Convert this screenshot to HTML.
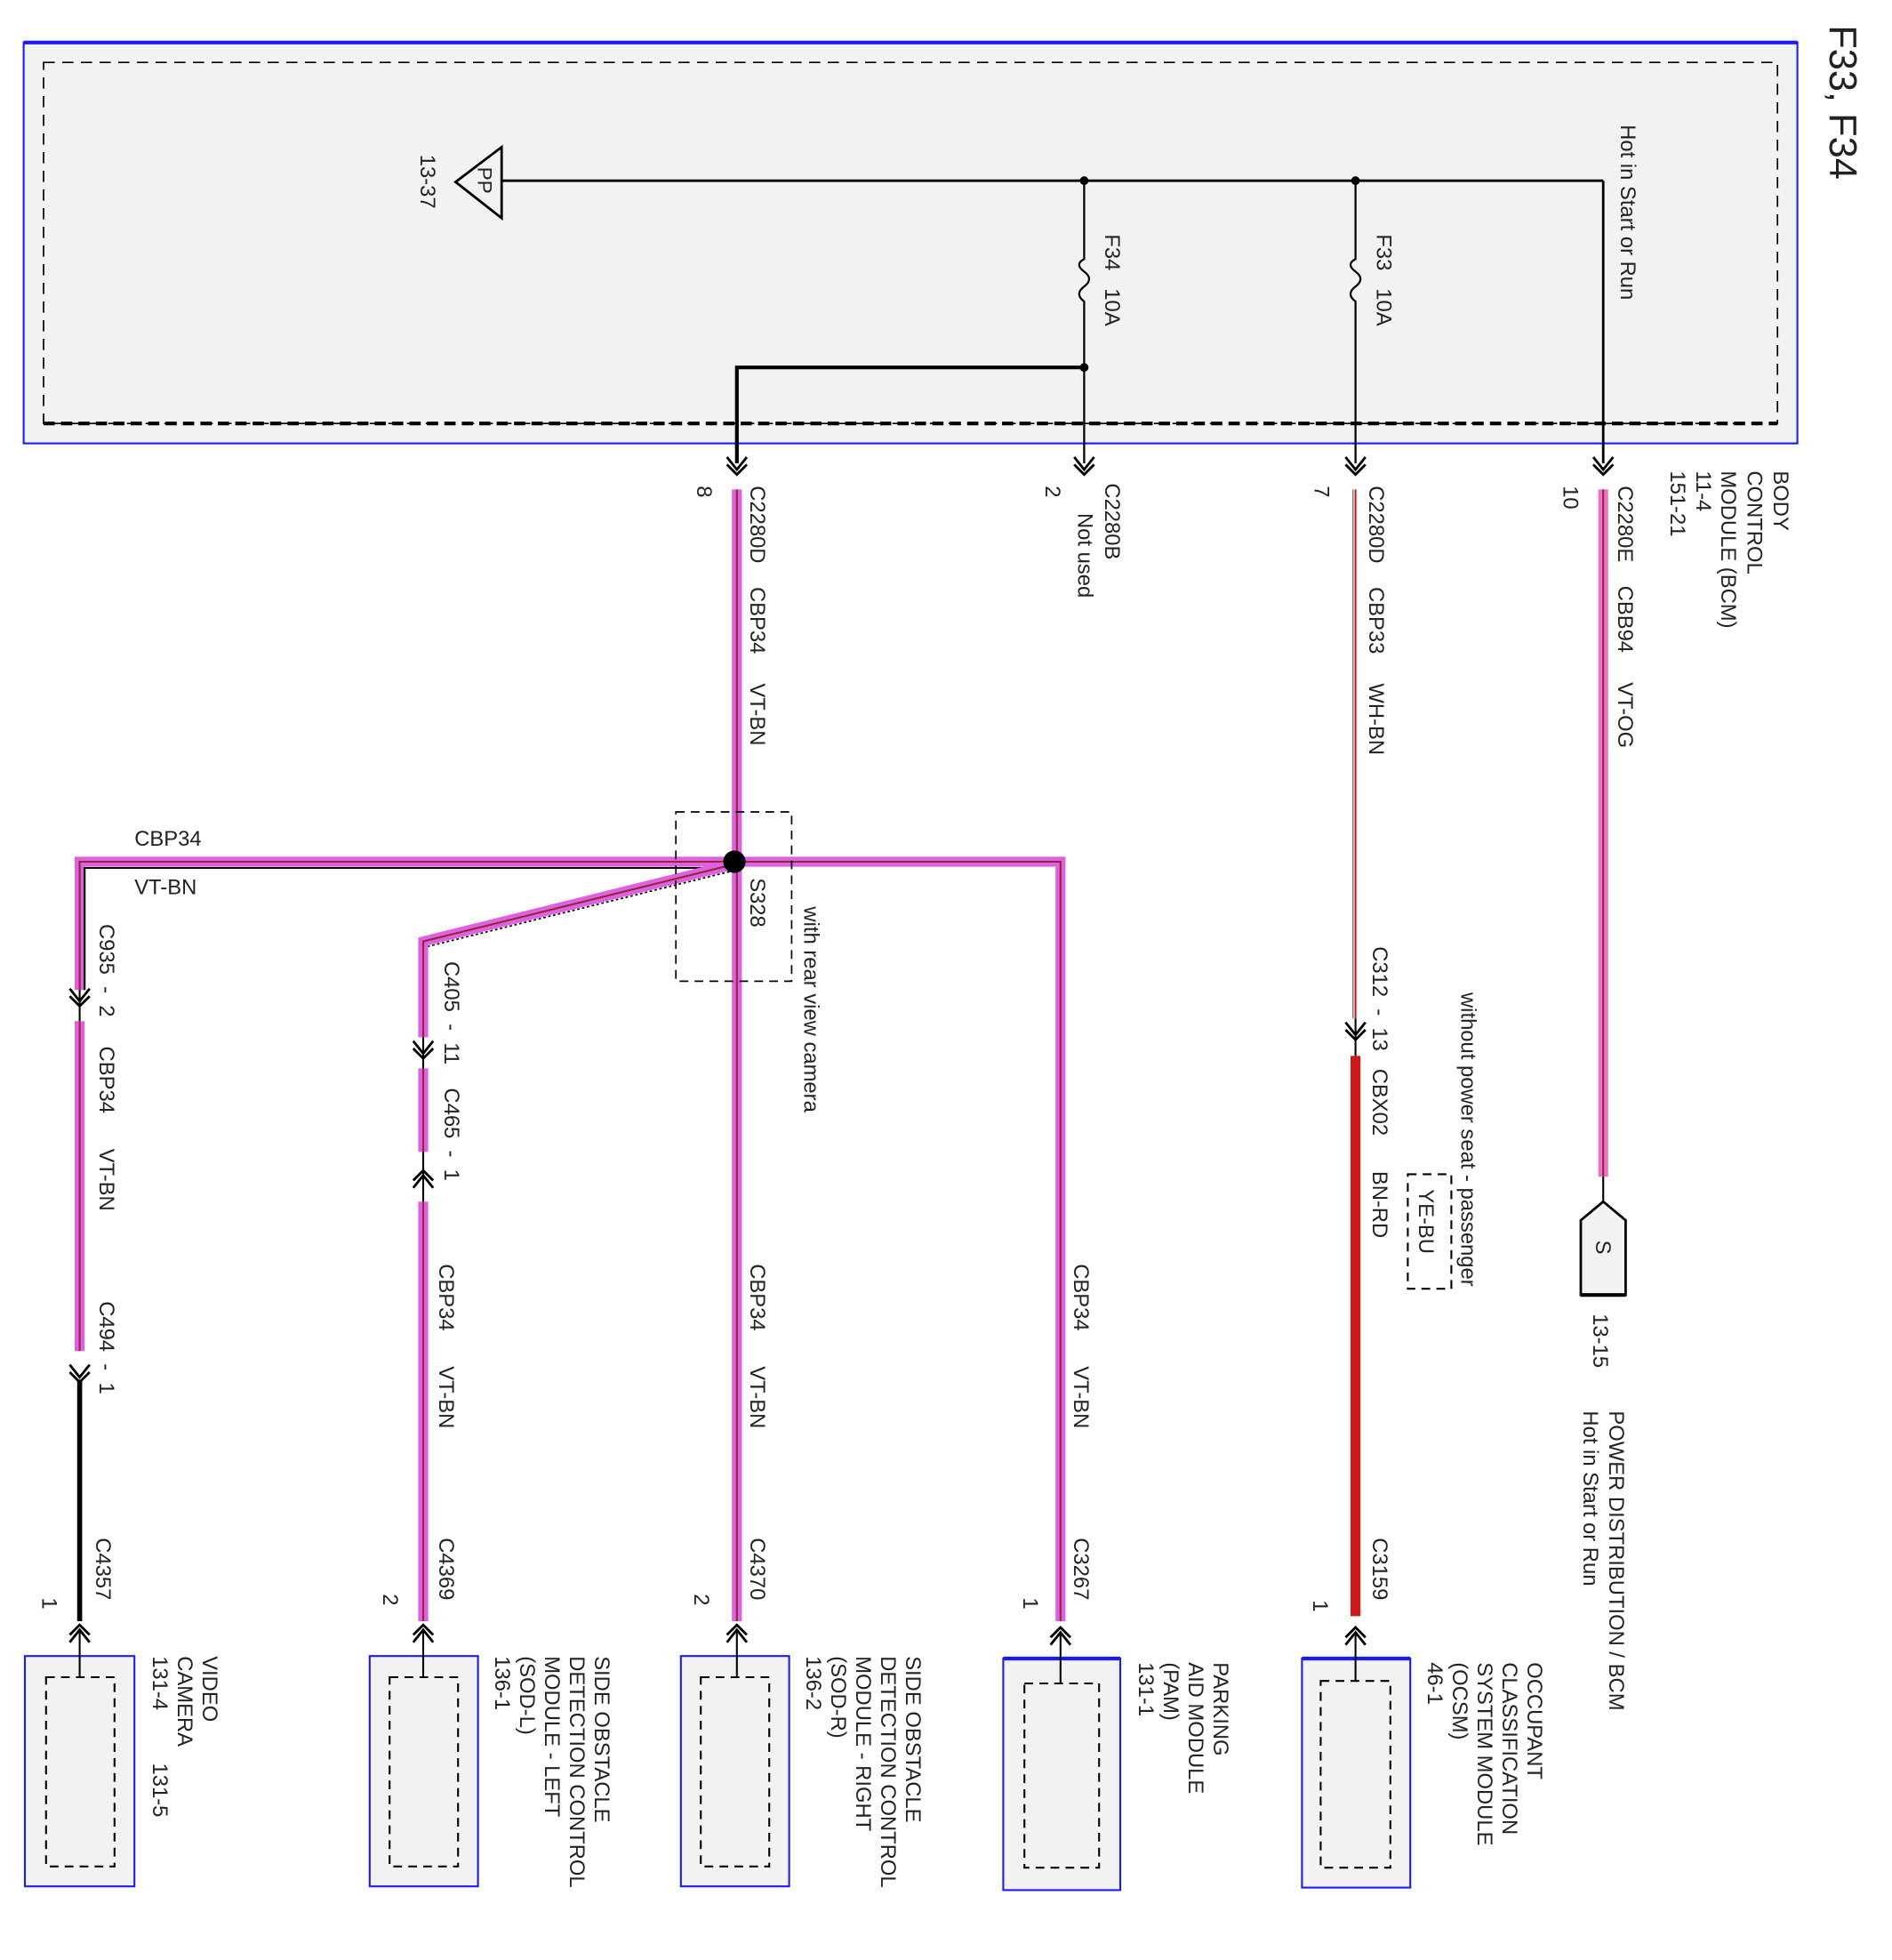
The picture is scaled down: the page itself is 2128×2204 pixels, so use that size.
<!DOCTYPE html>
<html><head><meta charset="utf-8"><style>
html,body{margin:0;padding:0;background:#fff;}
svg{display:block;}
text{font-family:"Liberation Sans",sans-serif;font-size:17px;fill:#222;white-space:pre;}
</style></head><body>
<svg width="2128" height="2204" viewBox="0 0 1520 1574" xmlns="http://www.w3.org/2000/svg" xml:space="preserve">
<defs>
<g id="dn"><path d="M-8,-9 L0,1 L8,-9 M-8,-3 L0,5 L8,-3" fill="none" stroke="#000" stroke-width="2"/></g>
<g id="up"><path d="M-8,9 L0,-1 L8,9 M-8,3 L0,-5 L8,3" fill="none" stroke="#000" stroke-width="2"/></g>
</defs>
<rect x="19" y="34" width="1425" height="322" fill="#f2f2f2" stroke="#1a1aff" stroke-width="1.5"/>
<line x1="19" y1="34" x2="1444" y2="34" stroke="#1a1aff" stroke-width="3"/>
<rect x="35" y="50" width="1393" height="290" fill="none" stroke="#000" stroke-width="1.2" stroke-dasharray="9,6"/>
<line x1="35" y1="340" x2="1428" y2="340" stroke="#000" stroke-width="3" stroke-dasharray="9,5"/>
<text transform="rotate(90 1470 20)" x="1470" y="20" style="font-size:31px">F33, F34</text>
<line x1="403" y1="145" x2="1288" y2="145" stroke="#000" stroke-width="2"/>
<line x1="1288" y1="145" x2="1288" y2="372" stroke="#000" stroke-width="2"/>
<polygon points="366,146 403,118 403,175" fill="#f2f2f2" stroke="#000" stroke-width="2"/>
<text transform="rotate(90 384 134)" x="384" y="134" style="font-size:16px">PP</text>
<text transform="rotate(90 338 124)" x="338" y="124">13-37</text>
<circle cx="871" cy="145" r="3.5" fill="#000"/><circle cx="1089" cy="145" r="3.5" fill="#000"/>
<path d="M871,145 V208 q-8,4 0,10 q8,6 0,12 q-8,6 0,12 V372" fill="none" stroke="#000" stroke-width="1.6"/>
<path d="M1089,145 V208 q-8,4 0,10 q8,6 0,12 q-8,6 0,12 V372" fill="none" stroke="#000" stroke-width="1.6"/>
<text transform="rotate(90 888 188)" x="888" y="188">F34   10A</text>
<text transform="rotate(90 1106 188)" x="1106" y="188">F33   10A</text>
<text transform="rotate(90 1302 100)" x="1302" y="100">Hot in Start or Run</text>
<path d="M871,295 H592 V372" fill="none" stroke="#000" stroke-width="3"/>
<circle cx="871" cy="295" r="3.5" fill="#000"/>
<use href="#dn" x="592" y="376"/><use href="#dn" x="871" y="376"/><use href="#dn" x="1089" y="376"/><use href="#dn" x="1288" y="376"/>
<g stroke-linecap="butt" fill="none">
<line x1="592" y1="393" x2="592" y2="1302" stroke="#e060e0" stroke-width="8"/>
<line x1="592" y1="393" x2="592" y2="1302" stroke="#8a2a3a" stroke-width="1.5"/>
<line x1="1288" y1="393" x2="1288" y2="945" stroke="#f070c8" stroke-width="8"/>
<line x1="1288" y1="393" x2="1288" y2="945" stroke="#8a2a3a" stroke-width="1.5"/>
<line x1="1089" y1="393" x2="1089" y2="818" stroke="#fff" stroke-width="6"/>
<line x1="1089" y1="393" x2="1089" y2="818" stroke="#c02020" stroke-width="1.5"/>
<line x1="1087" y1="393" x2="1087" y2="818" stroke="#555" stroke-width="0.8"/>
<line x1="1089" y1="848" x2="1089" y2="1298" stroke="#cc1a1a" stroke-width="8"/>
<path d="M592,692 H64 V795" stroke="#e060e0" stroke-width="8"/>
<path d="M592,692 H64 V795" stroke="#8a2a3a" stroke-width="1.5"/>
<path d="M590,697 H68 V795" stroke="#000" stroke-width="1.5"/>
<path d="M592,692 H852 V1302" stroke="#e060e0" stroke-width="8"/>
<path d="M592,692 H852 V1302" stroke="#8a2a3a" stroke-width="1.5"/>
<path d="M590,694 L340,756 V833" stroke="#e060e0" stroke-width="8"/>
<path d="M590,694 L340,756 V833" stroke="#8a2a3a" stroke-width="1.5"/>
<path d="M586,700 L344,760" stroke="#000" stroke-width="1.2" stroke-dasharray="2,2"/>
<line x1="340" y1="858" x2="340" y2="925" stroke="#e060e0" stroke-width="8"/>
<line x1="340" y1="858" x2="340" y2="925" stroke="#8a2a3a" stroke-width="1.5"/>
<line x1="340" y1="965" x2="340" y2="1302" stroke="#e060e0" stroke-width="8"/>
<line x1="340" y1="965" x2="340" y2="1302" stroke="#8a2a3a" stroke-width="1.5"/>
<line x1="64" y1="820" x2="64" y2="1085" stroke="#e060e0" stroke-width="8"/>
<line x1="64" y1="820" x2="64" y2="1085" stroke="#8a2a3a" stroke-width="1.5"/>
<line x1="64" y1="1108" x2="64" y2="1302" stroke="#000" stroke-width="4"/>
<line x1="340" y1="925" x2="340" y2="965" stroke="#000" stroke-width="1.5"/>
<line x1="340" y1="833" x2="340" y2="858" stroke="#000" stroke-width="1.5"/>
<line x1="64" y1="795" x2="64" y2="820" stroke="#000" stroke-width="1.5"/>
<line x1="1089" y1="818" x2="1089" y2="848" stroke="#000" stroke-width="1.5"/>
</g>
<rect x="543" y="652" width="93" height="136" fill="none" stroke="#000" stroke-width="1.2" stroke-dasharray="7,5"/>
<circle cx="590" cy="692" r="9" fill="#000"/>
<use href="#dn" x="64" y="803"/><use href="#dn" x="64" y="1105"/>
<use href="#dn" x="340" y="845"/><use href="#up" x="340" y="945"/>
<use href="#dn" x="1089" y="830"/>
<line x1="1288" y1="945" x2="1288" y2="965" stroke="#000" stroke-width="1.5"/>
<polygon points="1270,980 1288,965 1306,980 1306,1040 1270,1040" fill="#f2f2f2" stroke="#000" stroke-width="2"/>
<line x1="1270" y1="1040" x2="1306" y2="1040" stroke="#000" stroke-width="3"/>
<text transform="rotate(90 1282 996)" x="1282" y="996">S</text>
<rect x="1131" y="943" width="35" height="92" fill="none" stroke="#000" stroke-width="1.5" stroke-dasharray="7,5"/>
<text transform="rotate(90 1140 955)" x="1140" y="955">YE-BU</text>
<use href="#up" x="64" y="1310"/><use href="#up" x="340" y="1310"/><use href="#up" x="592" y="1310"/><use href="#up" x="852" y="1312"/><use href="#up" x="1089" y="1312"/>
<g fill="#f2f2f2" stroke="#1a1aff" stroke-width="1.5">
<rect x="20" y="1330" width="88" height="185"/><rect x="297" y="1330" width="87" height="185"/>
<rect x="547" y="1330" width="87" height="185"/><rect x="806" y="1332" width="94" height="186"/>
<rect x="1046" y="1332" width="87" height="184"/>
</g>
<g stroke="#1a1aff" stroke-width="3"><line x1="806" y1="1332" x2="900" y2="1332"/><line x1="1046" y1="1332" x2="1133" y2="1332"/></g>
<g fill="none" stroke="#000" stroke-width="1.5" stroke-dasharray="7,5">
<rect x="37" y="1347" width="55" height="152"/><rect x="313" y="1347" width="55" height="152"/>
<rect x="563" y="1347" width="55" height="152"/><rect x="823" y="1352" width="60" height="148"/>
<rect x="1061" y="1350" width="56" height="150"/>
</g>
<g stroke="#000" stroke-width="1.5">
<line x1="64" y1="1310" x2="64" y2="1347"/><line x1="340" y1="1310" x2="340" y2="1347"/><line x1="592" y1="1310" x2="592" y2="1347"/><line x1="852" y1="1312" x2="852" y2="1352"/><line x1="1089" y1="1312" x2="1089" y2="1350"/>
</g>
<g>
<text transform="rotate(90 603 390)" x="603" y="390">C2280D    CBP34     VT-BN</text>
<text transform="rotate(90 560 390)" x="560" y="390">8</text>
<text transform="rotate(90 888 388)" x="888" y="388">C2280B</text>
<text transform="rotate(90 866 412)" x="866" y="412">Not used</text>
<text transform="rotate(90 840 390)" x="840" y="390">2</text>
<text transform="rotate(90 1100 390)" x="1100" y="390">C2280D    CBP33     WH-BN</text>
<text transform="rotate(90 1056 390)" x="1056" y="390">7</text>
<text transform="rotate(90 1300 390)" x="1300" y="390">C2280E    CBB94     VT-OG</text>
<text transform="rotate(90 1256 390)" x="1256" y="390">10</text>
<text transform="rotate(90 1425 378)" x="1425" y="378">BODY</text>
<text transform="rotate(90 1404 378)" x="1404" y="378">CONTROL</text>
<text transform="rotate(90 1383 378)" x="1383" y="378">MODULE (BCM)</text>
<text transform="rotate(90 1363 378)" x="1363" y="378">11-4</text>
<text transform="rotate(90 1342 378)" x="1342" y="378">151-21</text>
<text x="108" y="679">CBP34</text>
<text x="108" y="718">VT-BN</text>
<text transform="rotate(90 603 705)" x="603" y="705">S328</text>
<text transform="rotate(90 646 728)" x="646" y="728">with rear view camera</text>
<text transform="rotate(90 80 742)" x="80" y="742">C935  -  2     CBP34      VT-BN</text>
<text transform="rotate(90 80 1045)" x="80" y="1045">C494  -  1</text>
<text transform="rotate(90 77 1235)" x="77" y="1235">C4357</text>
<text transform="rotate(90 34 1283)" x="34" y="1283">1</text>
<text transform="rotate(90 357 772)" x="357" y="772">C405  -  11    C465  -  1</text>
<text transform="rotate(90 353 1015)" x="353" y="1015">CBP34      VT-BN</text>
<text transform="rotate(90 353 1235)" x="353" y="1235">C4369</text>
<text transform="rotate(90 308 1280)" x="308" y="1280">2</text>
<text transform="rotate(90 603 1015)" x="603" y="1015">CBP34      VT-BN</text>
<text transform="rotate(90 603 1235)" x="603" y="1235">C4370</text>
<text transform="rotate(90 558 1280)" x="558" y="1280">2</text>
<text transform="rotate(90 863 1015)" x="863" y="1015">CBP34      VT-BN</text>
<text transform="rotate(90 863 1235)" x="863" y="1235">C3267</text>
<text transform="rotate(90 822 1283)" x="822" y="1283">1</text>
<text transform="rotate(90 1103 760)" x="1103" y="760">C312  -  13   CBX02      BN-RD</text>
<text transform="rotate(90 1103 1235)" x="1103" y="1235">C3159</text>
<text transform="rotate(90 1055 1285)" x="1055" y="1285">1</text>
<text transform="rotate(90 1174 797)" x="1174" y="797">without power seat - passenger</text>
<text transform="rotate(90 1280 1055)" x="1280" y="1055">13-15</text>
<text transform="rotate(90 1293 1133)" x="1293" y="1133">POWER DISTRIBUTION / BCM</text>
<text transform="rotate(90 1272 1133)" x="1272" y="1133">Hot in Start or Run</text>
<text transform="rotate(90 163 1330)" x="163" y="1330">VIDEO</text>
<text transform="rotate(90 143 1330)" x="143" y="1330">CAMERA</text>
<text transform="rotate(90 123 1330)" x="123" y="1330">131-4         131-5</text>
<text transform="rotate(90 478 1330)" x="478" y="1330">SIDE OBSTACLE</text>
<text transform="rotate(90 458 1330)" x="458" y="1330">DETECTION CONTROL</text>
<text transform="rotate(90 438 1330)" x="438" y="1330">MODULE - LEFT</text>
<text transform="rotate(90 418 1330)" x="418" y="1330">(SOD-L)</text>
<text transform="rotate(90 398 1330)" x="398" y="1330">136-1</text>
<text transform="rotate(90 728 1330)" x="728" y="1330">SIDE OBSTACLE</text>
<text transform="rotate(90 708 1330)" x="708" y="1330">DETECTION CONTROL</text>
<text transform="rotate(90 688 1330)" x="688" y="1330">MODULE - RIGHT</text>
<text transform="rotate(90 668 1330)" x="668" y="1330">(SOD-R)</text>
<text transform="rotate(90 648 1330)" x="648" y="1330">136-2</text>
<text transform="rotate(90 975 1335)" x="975" y="1335">PARKING</text>
<text transform="rotate(90 955 1335)" x="955" y="1335">AID MODULE</text>
<text transform="rotate(90 935 1335)" x="935" y="1335">(PAM)</text>
<text transform="rotate(90 915 1335)" x="915" y="1335">131-1</text>
<text transform="rotate(90 1227 1335)" x="1227" y="1335">OCCUPANT</text>
<text transform="rotate(90 1207 1335)" x="1207" y="1335">CLASSIFICATION</text>
<text transform="rotate(90 1187 1335)" x="1187" y="1335">SYSTEM MODULE</text>
<text transform="rotate(90 1167 1335)" x="1167" y="1335">(OCSM)</text>
<text transform="rotate(90 1147 1335)" x="1147" y="1335">46-1</text>
</g>
</svg>
</body></html>
